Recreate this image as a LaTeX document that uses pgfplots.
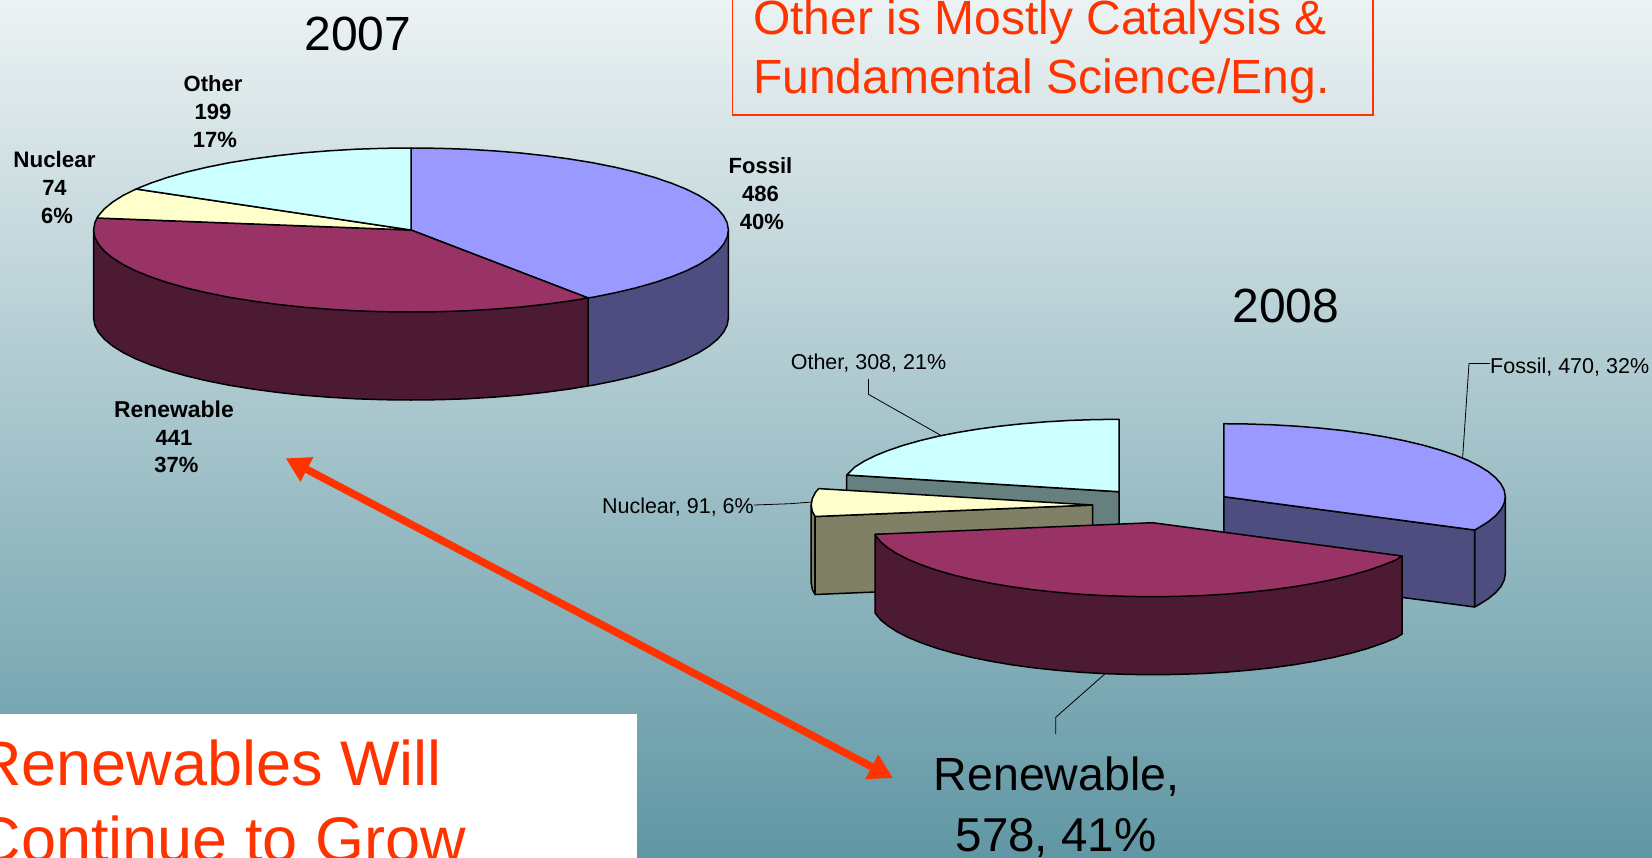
\documentclass[border=0pt]{standalone}
\usepackage{pgfplots}
\pgfplotsset{compat=1.18}
\usepackage{fontspec}
\setmainfont{Liberation Sans}
\usetikzlibrary{arrows.meta}
\definecolor{fossilT}{HTML}{9999FF}
\definecolor{fossilS}{HTML}{4D4D80}
\definecolor{renewT}{HTML}{993366}
\definecolor{renewS}{HTML}{4C1A33}
\definecolor{nuclearT}{HTML}{FFFFCC}
\definecolor{nuclearS}{HTML}{808066}
\definecolor{otherT}{HTML}{CCFFFF}
\definecolor{otherS}{HTML}{668080}
\definecolor{callout}{HTML}{FF3300}
\definecolor{bgTop}{RGB}{236,242,243}
\definecolor{bgMid}{RGB}{172,194,200}
\definecolor{bgBot}{RGB}{96,151,164}
\newcommand{\fs}[1]{\fontsize{#1}{#1}\selectfont}
\pgfplotsset{wedge/.style={draw=black,line width=1.5pt,line join=round}}
\begin{document}
\begin{tikzpicture}
\path[use as bounding box,clip] (0,0) rectangle (1652pt,857pt);
\shade[top color=bgTop,middle color=bgMid,bottom color=bgBot] (0,0) rectangle (1652pt,857pt);
\begin{axis}[
  at={(0,0)},anchor=south west,
  scale only axis,width=1652pt,height=857pt,
  xmin=0,xmax=1652,ymin=0,ymax=857,y dir=reverse,
  hide axis,clip=false]

% 2007 pie: side walls
\addplot[wedge,fill=fossilS] coordinates {(588,297.9)(728.4,230)(728.4,318)(727.2,325.1)(723.6,332.2)(717.6,339.2)(709.3,346)(698.7,352.7)(685.9,359)(671,365)(654.1,370.7)(635.4,376)(615,380.8)(593.1,385.2)(588,385.9)(588,297.9)};
\addplot[wedge,fill=renewS] coordinates {(588,297.9)(588,385.9)(569.7,389)(545.1,392.3)(519.6,395.1)(493.1,397.2)(466.1,398.8)(438.7,399.7)(411,400)(383.3,399.7)(355.9,398.8)(328.9,397.2)(302.4,395.1)(276.9,392.3)(252.3,389)(228.9,385.2)(207,380.8)(186.6,376)(167.9,370.7)(151,365)(136.1,359)(123.3,352.7)(112.7,346)(104.4,339.2)(98.4,332.2)(94.8,325.1)(93.6,318)(93.6,230)(588,297.9)};
% 2007 pie: top faces
\addplot[wedge,fill=fossilT] coordinates {(411,230)(411,148)(438.7,148.3)(466.1,149.2)(493.1,150.8)(519.6,152.9)(545.1,155.7)(569.7,159)(593.1,162.8)(615,167.2)(635.4,172)(654.1,177.3)(671,183)(685.9,189)(698.7,195.3)(709.3,202)(717.6,208.8)(723.6,215.8)(727.2,222.9)(728.4,230)(727.2,237.1)(723.6,244.2)(717.6,251.2)(709.3,258)(698.7,264.7)(685.9,271)(671,277)(654.1,282.7)(635.4,288)(615,292.8)(593.1,297.2)(588,297.9)(411,230)};
\addplot[wedge,fill=renewT] coordinates {(411,230)(588,297.9)(569.7,301)(545.1,304.3)(519.6,307.1)(493.1,309.2)(466.1,310.8)(438.7,311.7)(411,312)(383.3,311.7)(355.9,310.8)(328.9,309.2)(302.4,307.1)(276.9,304.3)(252.3,301)(228.9,297.2)(207,292.8)(186.6,288)(167.9,282.7)(151,277)(136.1,271)(123.3,264.7)(112.7,258)(104.4,251.2)(98.4,244.2)(94.8,237.1)(93.6,230)(94.8,222.9)(97,218)(411,230)};
\addplot[wedge,fill=nuclearT] coordinates {(411,230)(97,218)(98.4,215.8)(104.4,208.8)(112.7,202)(123.3,195.3)(136.1,189)(411,230)};
\addplot[wedge,fill=otherT] coordinates {(411,230)(136.1,189)(151,183)(167.9,177.3)(186.6,172)(207,167.2)(228.9,162.8)(252.3,159)(276.9,155.7)(302.4,152.9)(328.9,150.8)(355.9,149.2)(383.3,148.3)(411,148)(411,230)};

% 2008 pie: leader lines
\addplot[black,line width=0.8pt] coordinates {(868.4,379)(868.4,394.3)(940.2,435)};
\addplot[black,line width=0.8pt] coordinates {(1490,363.5)(1469,363.5)(1462.6,458)};
\addplot[black,line width=0.8pt] coordinates {(754,505)(790,503.7)(812,502)};
\addplot[black,line width=0.8pt] coordinates {(1105.6,673.3)(1055.7,717.3)(1055.7,734)};

% 2008 pie: Other slice
\addplot[wedge,fill=otherS] coordinates {(846.7,475)(1119,491.7)(1119,569.7)(846.7,553)(846.7,475)};
\addplot[wedge,fill=otherT] coordinates {(1119,491.7)(1119,419.3)(1094.5,419.6)(1070.2,420.4)(1046.2,421.8)(1022.9,423.7)(1000.2,426.1)(978.5,429)(957.8,432.4)(938.4,436.2)(920.3,440.5)(903.7,445.2)(888.8,450.2)(875.6,455.5)(864.3,461.1)(855,466.9)(846.7,475)(1119,491.7)};
% 2008 pie: Nuclear slice
\addplot[wedge,fill=nuclearS] coordinates {(811.2,505)(815,516.5)(815,594.5)(812.3,589.4)(811.2,583)(811.2,505)};
\addplot[wedge,fill=nuclearS] coordinates {(815,516.5)(1092.7,505)(1092.7,583)(815,594.5)(815,516.5)};
\addplot[wedge,fill=nuclearT] coordinates {(1092.7,505)(818.7,488.6)(815.5,492.3)(812.3,498.6)(811.2,505)(812.3,511.4)(815,516.5)(1092.7,505)};
% 2008 pie: Fossil slice
\addplot[wedge,fill=fossilS] coordinates {(1474.6,530)(1505.3,496.7)(1505.3,573.7)(1504.2,580.1)(1501,586.4)(1495.7,592.6)(1488.3,598.7)(1478.9,604.6)(1474.6,607)(1474.6,530)};
\addplot[wedge,fill=fossilS] coordinates {(1223.8,496.7)(1474.6,530)(1474.6,607)(1223.8,573.7)(1223.8,496.7)};
\addplot[wedge,fill=fossilT] coordinates {(1223.8,496.7)(1223.8,423.7)(1248.3,424)(1272.7,424.8)(1296.7,426.2)(1320.1,428.1)(1342.8,430.5)(1364.6,433.5)(1385.3,436.9)(1404.7,440.8)(1422.9,445.1)(1439.4,449.8)(1454.4,454.8)(1467.6,460.2)(1478.9,465.8)(1488.3,471.7)(1495.7,477.8)(1501,484)(1504.2,490.3)(1505.3,496.7)(1504.2,503.1)(1501,509.4)(1495.7,515.6)(1488.3,521.7)(1478.9,527.6)(1474.6,530)(1223.8,496.7)};
% 2008 pie: Renewable slice
\addplot[wedge,fill=renewS] coordinates {(875,534.3)(1402,556)(1402,634)(1396.4,637.7)(1383.2,643.1)(1368.2,648.3)(1351.7,653)(1333.5,657.4)(1314.1,661.3)(1293.4,664.8)(1271.6,667.8)(1248.9,670.2)(1225.5,672.2)(1201.5,673.6)(1177.1,674.4)(1152.6,674.7)(1128.1,674.4)(1103.7,673.6)(1079.7,672.2)(1056.3,670.2)(1033.6,667.8)(1011.8,664.8)(991.1,661.3)(971.7,657.4)(953.5,653)(937,648.3)(922,643.1)(908.8,637.7)(897.5,632)(888.1,626)(880.7,619.9)(875.4,613.5)(875,612.3)(875,534.3)};
\addplot[wedge,fill=renewT] coordinates {(1152.6,522.7)(1402,556)(1396.4,559.7)(1383.2,565.1)(1368.2,570.3)(1351.7,575)(1333.5,579.4)(1314.1,583.3)(1293.4,586.8)(1271.6,589.8)(1248.9,592.2)(1225.5,594.2)(1201.5,595.6)(1177.1,596.4)(1152.6,596.7)(1128.1,596.4)(1103.7,595.6)(1079.7,594.2)(1056.3,592.2)(1033.6,589.8)(1011.8,586.8)(991.1,583.3)(971.7,579.4)(953.5,575)(937,570.3)(922,565.1)(908.8,559.7)(897.5,554)(888.1,548)(880.7,541.9)(875.4,535.5)(875,534.3)(1152.6,522.7)};

% Call-out boxes and the arrow that links the two Renewable slices
\fill[white] (axis cs:-5,714) rectangle (axis cs:636.6,870);
\draw[callout,line width=1.6pt] (axis cs:732.6,-10) rectangle (axis cs:1373,115);
\draw[callout,line width=7.5pt,{Triangle[length=24pt,width=26pt]}-{Triangle[length=24pt,width=26pt]}] (axis cs:285.7,458.3) -- (axis cs:893,778);

% Year headings
\node[anchor=base,font=\fs{48}] at (axis cs:358,50) {2007};
\node[anchor=base,font=\fs{48}] at (axis cs:1286,322) {2008};

% 2007 labels
\node[anchor=base,font=\bfseries\fs{22}] at (axis cs:760.5,173.7) {Fossil};
\node[anchor=base,font=\bfseries\fs{22}] at (axis cs:760.5,201) {486};
\node[anchor=base,font=\bfseries\fs{22}] at (axis cs:762,229.3) {40\%};
\node[anchor=base,font=\bfseries\fs{22}] at (axis cs:213,91) {Other};
\node[anchor=base,font=\bfseries\fs{22}] at (axis cs:213,119) {199};
\node[anchor=base,font=\bfseries\fs{22}] at (axis cs:215,147) {17\%};
\node[anchor=base,font=\bfseries\fs{22.4}] at (axis cs:54.5,167.7) {Nuclear};
\node[anchor=base,font=\bfseries\fs{22}] at (axis cs:54.5,195) {74};
\node[anchor=base,font=\bfseries\fs{22}] at (axis cs:57,223.3) {6\%};
\node[anchor=base,font=\bfseries\fs{22.9}] at (axis cs:174,417.7) {Renewable};
\node[anchor=base,font=\bfseries\fs{22}] at (axis cs:174,445) {441};
\node[anchor=base,font=\bfseries\fs{22}] at (axis cs:176.5,472.7) {37\%};

% 2008 labels
\node[anchor=base,font=\fs{21.5}] at (axis cs:868.5,369) {Other, 308, 21\%};
\node[anchor=base east,font=\fs{21.5},inner xsep=0pt] at (axis cs:754,513) {Nuclear, 91, 6\%};
\node[anchor=base west,font=\fs{21.5},inner xsep=0pt] at (axis cs:1490,373) {Fossil, 470, 32\%};
\node[anchor=base,font=\fs{46.5}] at (axis cs:1056.5,790.7) {Renewable,};
\node[anchor=base,font=\fs{47.5}] at (axis cs:1056,851.7) {578, 41\%};

% Call-out texts
\node[anchor=base west,font=\fs{48},text=callout,inner xsep=0pt] at (axis cs:753,34.3) {Other is Mostly Catalysis \&};
\node[anchor=base west,font=\fs{48},text=callout,inner xsep=0pt] at (axis cs:753,93.7) {Fundamental Science/Eng.};
\node[anchor=base east,font=\fs{63},text=callout,inner xsep=0pt] at (axis cs:442,785) {Renewables Will};
\node[anchor=base east,font=\fs{63},text=callout,inner xsep=0pt] at (axis cs:466,861.5) {Continue to Grow};
\end{axis}
\end{tikzpicture}
\end{document}
